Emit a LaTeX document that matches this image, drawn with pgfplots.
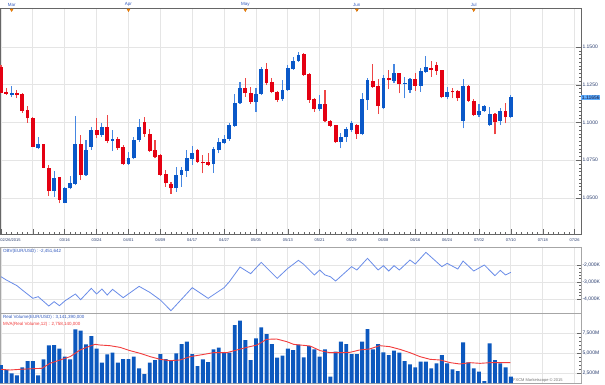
\documentclass[border=0pt]{standalone}
\usepackage{pgfplots}
\pgfplotsset{compat=1.18}
\usepackage{pgfplotstable}
\usepackage{fontspec}
\setmainfont{Liberation Sans}
\definecolor{upc}{RGB}{10,88,200}
\definecolor{upw}{RGB}{70,135,225}
\definecolor{downc}{RGB}{228,0,18}
\definecolor{downw}{RGB}{238,70,70}
\definecolor{volc}{RGB}{12,88,190}
\definecolor{mvac}{RGB}{242,60,60}
\definecolor{obvc}{RGB}{105,140,232}
\definecolor{labc}{RGB}{40,60,110}
\definecolor{monthc}{RGB}{50,90,190}
\definecolor{tagc}{RGB}{95,175,255}

\pgfplotstableread{
x o h l c
2 1.1182 1.1242 1.1167 1.1193
7 1.0829 1.0906 1.0822 1.0855
10 1.0546 1.0681 1.0509 1.0635
12 1.0469 1.0575 1.0465 1.0564
13 1.0564 1.0648 1.0557 1.0597
14 1.0593 1.1043 1.0586 1.0858
16 1.0652 1.0884 1.0646 1.0818
17 1.0840 1.0968 1.0818 1.0950
19 1.0917 1.0999 1.0906 1.0968
21 1.0880 1.0950 1.0811 1.0891
24 1.0725 1.0807 1.0719 1.0767
25 1.0763 1.0906 1.0756 1.0884
26 1.0884 1.1023 1.0873 1.0968
33 1.0564 1.0708 1.0542 1.0652
34 1.0652 1.0708 1.0575 1.0685
35 1.0681 1.0818 1.0641 1.0763
36 1.0758 1.0844 1.0719 1.0800
40 1.0725 1.0840 1.0668 1.0822
41 1.0818 1.0895 1.0796 1.0873
42 1.0862 1.0917 1.0858 1.0889
43 1.0889 1.0995 1.0880 1.0983
44 1.0979 1.1189 1.0972 1.1131
45 1.1127 1.1270 1.1123 1.1226
48 1.1138 1.1226 1.1072 1.1189
49 1.1189 1.1370 1.1182 1.1354
53 1.1153 1.1281 1.1145 1.1215
54 1.1215 1.1381 1.1211 1.1359
55 1.1354 1.1436 1.1348 1.1410
56 1.1410 1.1469 1.1403 1.1447
60 1.1087 1.1182 1.1078 1.1120
64 1.0869 1.0928 1.0829 1.0906
65 1.0902 1.0968 1.0873 1.0955
66 1.0950 1.1010 1.0939 1.0995
68 1.0922 1.1198 1.0917 1.1153
69 1.1149 1.1293 1.1083 1.1281
72 1.1094 1.1315 1.1089 1.1297
74 1.1277 1.1387 1.1259 1.1326
76 1.1259 1.1299 1.1160 1.1264
77 1.1215 1.1293 1.1198 1.1288
79 1.1244 1.1359 1.1204 1.1343
80 1.1337 1.1440 1.1330 1.1365
84 1.1167 1.1237 1.1153 1.1204
87 1.1010 1.1286 1.0961 1.1242
90 1.1050 1.1123 1.1039 1.1078
91 1.1078 1.1116 1.1072 1.1112
92 1.0983 1.1105 1.0977 1.1056
94 1.1010 1.1094 1.0983 1.1076
96 1.1034 1.1182 1.1032 1.1166
}\upcandles

\pgfplotstableread{
x o h l c
0 1.1365 1.1381 1.1193 1.1198
1 1.1204 1.1226 1.1182 1.1189
3 1.1193 1.1215 1.1160 1.1182
4 1.1187 1.1193 1.1065 1.1078
5 1.1083 1.1109 1.0999 1.1028
6 1.1032 1.1034 1.0836 1.0840
8 1.0855 1.0858 1.0697 1.0701
9 1.0701 1.0719 1.0513 1.0546
11 1.0637 1.0641 1.0465 1.0487
15 1.0858 1.0917 1.0619 1.0652
18 1.0950 1.1028 1.0895 1.0917
20 1.0968 1.1050 1.0862 1.0880
22 1.0891 1.0906 1.0818 1.0829
23 1.0840 1.0851 1.0719 1.0723
27 1.1006 1.1034 1.0906 1.0924
28 1.0924 1.0955 1.0807 1.0813
29 1.0818 1.0884 1.0763 1.0774
30 1.0785 1.0791 1.0646 1.0652
31 1.0657 1.0685 1.0575 1.0597
32 1.0593 1.0608 1.0527 1.0564
37 1.0818 1.0822 1.0734 1.0741
38 1.0741 1.0785 1.0663 1.0730
39 1.0736 1.0800 1.0712 1.0719
46 1.1226 1.1293 1.1171 1.1193
47 1.1198 1.1237 1.1123 1.1138
50 1.1352 1.1392 1.1248 1.1264
51 1.1270 1.1293 1.1193 1.1204
52 1.1204 1.1211 1.1134 1.1149
57 1.1454 1.1458 1.1308 1.1315
58 1.1319 1.1330 1.1131 1.1149
59 1.1153 1.1160 1.1072 1.1087
61 1.1120 1.1215 1.1006 1.1010
62 1.1010 1.1017 1.0968 1.0977
63 1.0983 1.0986 1.0867 1.0869
67 1.0983 1.0990 1.0891 1.0922
70 1.1277 1.1385 1.1231 1.1237
71 1.1242 1.1286 1.1056 1.1109
73 1.1293 1.1348 1.1220 1.1281
75 1.1326 1.1330 1.1193 1.1255
78 1.1288 1.1330 1.1211 1.1244
81 1.1363 1.1407 1.1304 1.1348
82 1.1381 1.1403 1.1315 1.1343
83 1.1348 1.1350 1.1160 1.1167
85 1.1209 1.1226 1.1160 1.1200
86 1.1209 1.1215 1.1142 1.1160
88 1.1242 1.1248 1.1138 1.1145
89 1.1145 1.1153 1.1043 1.1050
93 1.1056 1.1061 1.0922 1.1006
95 1.1076 1.1127 1.0995 1.1034
}\downcandles

\pgfplotstableread{
x v
0 -2686
1 -2882
3 -3216
4 -3471
6 -3961
7 -3863
9 -4412
10 -4157
11 -4393
12 -4118
14 -3706
15 -4040
17 -3373
18 -3706
19 -3412
20 -3765
21 -3432
23 -3922
26 -3255
28 -3608
30 -4059
32 -4687
36 -3334
39 -3961
42 -3334
43 -2981
45 -2118
47 -2510
49 -1843
52 -2785
54 -2196
56 -1726
57 -1961
59 -2588
60 -2294
61 -2588
62 -2686
63 -2941
66 -2098
67 -2294
69 -1608
71 -2294
72 -2039
73 -2353
74 -2039
75 -2294
77 -1706
78 -1941
80 -1255
83 -2098
84 -1902
86 -2235
87 -1765
89 -2353
91 -2000
93 -2628
94 -2314
95 -2588
96 -2432
}\obv

\pgfplotstableread{
x v
0 3500
1 2875
2 2458
3 2208
4 3208
5 4000
6 4000
7 2208
8 4208
9 5958
10 6000
11 5542
12 4542
13 4208
14 7958
15 7792
16 6083
17 7125
18 5542
19 3792
20 4833
21 5042
22 3792
23 4250
24 4250
25 4542
26 3083
27 2375
28 3792
29 4125
30 4875
31 4250
32 4000
33 4958
34 6125
35 6417
36 4875
37 3375
38 4208
39 3875
40 5458
41 5667
42 5042
43 5042
44 8500
45 9042
46 6625
47 4125
48 6833
49 8208
50 7375
51 6125
52 4417
53 4667
54 5542
55 5375
56 6042
57 4458
58 5875
59 5458
60 4542
61 5458
62 2042
63 5167
64 6417
65 6125
66 4875
67 4875
68 6417
69 8000
70 5458
71 6125
72 5083
73 4750
74 5292
75 5042
76 4000
77 3583
78 3208
79 3917
80 3917
81 3083
82 3708
83 4750
84 3708
85 2958
86 2750
87 6333
88 3833
89 3083
90 2667
91 1500
92 6208
93 4125
94 3708
95 3208
96 2042
}\vol

\pgfplotstableread{
x v
0 2958
1.7 2875
3.6 2958
6.1 3042
7.7 3083
9.2 3708
11.1 4125
13.0 4542
14.9 5375
16.1 5708
17.7 6083
18.6 6000
20.5 5917
22.4 5708
24.3 5292
26.2 4958
28.1 4542
30.0 4208
31.8 4042
33.7 4125
35.6 4542
37.5 4750
40.0 5042
42.5 5042
44.4 5375
46.3 5708
48.2 6000
50.0 6708
51.9 6750
53.8 6417
55.1 6083
56.3 6000
58.2 5875
60.1 5292
61.9 5042
63.8 5042
65.7 5083
67.5 5375
69.4 5500
71.3 5917
73.2 5792
75.1 5458
77.0 5042
78.9 4542
80.8 4208
82.7 4125
84.6 3792
86.4 3625
88.3 3792
90.2 3708
92.1 3792
94.0 3792
95.9 3792
}\mva

\pgfplotsset{
  panel/.style={
    scale only axis, width=581pt,
    xmin=-0.19, xmax=109.2,
    axis line style={draw=black!60, line width=0.6pt},
    grid=major, grid style={draw=black!10, line width=0.8pt},
    tick align=inside,
    xtick={0,6,...,108},
    ytick pos=right, yticklabel pos=right,
    tick style={draw=black!60, line width=0.5pt},
    major tick length=4pt, minor tick length=2pt,
    yticklabel style={font=\fontsize{5}{5}\selectfont, text=labc, xshift=-2pt},
    scaled y ticks=false, scaled x ticks=false,
    /pgf/number format/assume math mode=true,
    clip mode=individual,
  },
  wick/.style={draw=none, mark=none, forget plot,
    error bars/.cd, y dir=plus, y explicit, error mark=none,
    error bar style={draw=#1, line width=1.1pt}},
  body/.style={draw=none, mark=none, forget plot,
    error bars/.cd, y dir=plus, y explicit, error mark=none,
    error bar style={draw=#1, line width=3.8pt}},
}

\begin{document}
\begin{tikzpicture}
\path[use as bounding box] (0pt,0pt) rectangle (605pt,384pt);
\fill[white] (0pt,0pt) rectangle (605pt,384pt);

% ---------- main price panel ----------
\begin{axis}[panel, at={(0pt,150pt)}, anchor=south west, height=226pt,
  ymin=1.02616, ymax=1.17583,
  ytick={1.05,1.075,1.1,1.125,1.15},
  yticklabels={1.0500,1.0750,1.1000,1.1250,1.1500},
  minor y tick num=9,
  xtick pos=bottom, minor x tick num=5,
  major tick length=5pt, minor tick length=2.5pt,
  xticklabels={,,03/16,03/24,04/01,04/09,04/17,04/27,05/05,05/13,05/21,05/29,06/08,06/16,06/24,07/02,07/10,07/18,07/26},
  xticklabel style={font=\fontsize{4}{4}\selectfont, text=labc, yshift=-1pt},
]
\addplot[wick=upw] table[x=x, y=l, y error expr=\thisrow{h}-\thisrow{l}] {\upcandles};
\addplot[wick=downw] table[x=x, y=l, y error expr=\thisrow{h}-\thisrow{l}] {\downcandles};
\addplot[body=upc] table[x=x, y=o, y error expr=\thisrow{c}-\thisrow{o}] {\upcandles};
\addplot[body=downc] table[x=x, y=c, y error expr=\thisrow{o}-\thisrow{c}] {\downcandles};
\node[anchor=west, fill=tagc, inner sep=0.7pt, font=\fontsize{5}{5}\selectfont\bfseries, text=labc] at (axis cs:109.2,1.1166) {1.11656};
\node[anchor=north west, inner sep=0pt, font=\fontsize{4}{4}\selectfont, text=labc] at (rel axis cs:0,0) [yshift=-4.6pt, xshift=0.3pt] {02/26/2015};
\end{axis}

% ---------- month axis on top ----------
\begin{axis}[at={(0pt,150pt)}, anchor=south west, scale only axis, width=581pt, height=226pt,
  xmin=-0.19, xmax=109.2, ymin=0, ymax=1,
  axis x line*=top, axis y line=none,
  axis line style={draw=black!60, line width=0.6pt},
  tick align=inside, tick style={draw=black!60, line width=0.5pt},
  major tick length=3pt, minor tick length=2pt,
  xtick={-20,2,24,46,67,89,111}, xticklabels={,Mar,Apr,May,Jun,Jul,},
  minor x tick num=7,
  xticklabel style={font=\fontsize{4.5}{4.5}\selectfont, text=monthc, inner sep=1pt},
  clip=false]
\addplot[only marks, mark=triangle*, mark size=1.8pt,
  mark options={rotate=180, fill=orange!90!yellow, draw=orange!80!black, line width=0.3pt}]
  coordinates {(2,0.992)(24,0.992)(46,0.992)(67,0.992)(89,0.992)};
\end{axis}

% ---------- OBV panel ----------
\begin{axis}[panel, at={(0pt,71pt)}, anchor=south west, height=66pt,
  ymin=-4824, ymax=-941,
  ytick={-4000,-3000,-2000}, yticklabels={{-4,000K},{-3,000K},{-2,000K}},
  minor y tick num=4,
  xticklabels={}, xtick style={draw=none},
  axis line style={draw=black!35, line width=0.6pt},
]
\addplot[draw=obvc, line width=0.8pt, mark=none] table[x=x, y=v] {\obv};
\node[anchor=north west, inner sep=0pt, font=\fontsize{4.5}{4.5}\selectfont, text=monthc] at (rel axis cs:0,1) [xshift=3pt, yshift=-2pt] {OBV(EUR/USD) : -2,451,642};
\end{axis}

% ---------- volume panel ----------
\begin{axis}[panel, at={(0pt,1pt)}, anchor=south west, height=70pt,
  ymin=1250, ymax=10000,
  ytick={2500,5000,7500}, yticklabels={{2,500M},{5,000M},{7,500M}},
  minor y tick num=4,
  xticklabels={}, xtick style={draw=none},
  axis line style={draw=black!35, line width=0.6pt},
]
\addplot[ybar, bar width=3.9pt, fill=volc, draw=none] table[x=x, y=v] {\vol};
\addplot[draw=mvac, line width=0.9pt, mark=none] table[x=x, y=v] {\mva};
\node[anchor=north west, inner sep=0pt, font=\fontsize{4.5}{4.5}\selectfont, text=monthc] at (rel axis cs:0,1) [xshift=3pt, yshift=-2pt] {Real Volume(EUR/USD) : 3,141,390,000};
\node[anchor=north west, inner sep=0pt, font=\fontsize{4.5}{4.5}\selectfont, text=mvac] at (rel axis cs:0,1) [xshift=3pt, yshift=-9pt] {MVA(Real Volume,12) : 2,758,140,000};
\end{axis}

\node[anchor=west, inner sep=0pt, font=\fontsize{4}{4}\selectfont, text=black!55] at (513pt,3.5pt) {FXCM Marketscope \textcopyright{} 2015};
\end{tikzpicture}
\end{document}
